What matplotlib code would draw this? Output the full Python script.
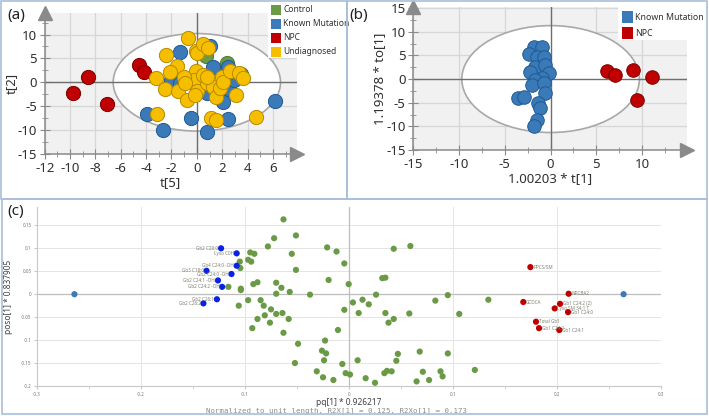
import numpy as np
import matplotlib
matplotlib.use("Agg")
import matplotlib.pyplot as plt
from matplotlib.patches import Ellipse, Rectangle
from matplotlib.ticker import MultipleLocator

plt.rcParams['font.family'] = ['Noto Sans', 'DejaVu Sans']
plt.rcParams['axes.unicode_minus'] = False

# ---- panel (a): t[5] vs t[2] scores ----
a_groups = ["Control", "Known Mutation", "NPC", "Undiagnosed"]
a_colors = ["#6a9a45", "#3a7ab8", "#c00000", "#f5bf00"]
a_edges = ["#4d7a2e", "#1f5a94", "#7a0000", "#b88a00"]
ctrl_x = [2.4, 0.7, 3.5]
ctrl_y = [4.1, 5.4, 1.8]
km_x = [6.2, -3.9, -2.7, -0.5, 0.8, 2.45, -1.3, 1.05, 1.3, 2.45, 2.05, 2.5, -2.0, -1.3, 0.8, 3.4, 2.9]
km_y = [-3.9, -6.6, -10.0, -7.5, -10.5, -7.75, 6.35, 7.5, 3.3, 3.3, -4.05, -1.3, 0.5, -0.2, -2.3, 1.5, 0.5]
npc_x = [-9.8, -8.6, -7.05, -4.55, -4.15]
npc_y = [-2.15, 1.1, -4.6, 3.55, 2.1]
und_x = [-0.7, -2.4, -0.1, 0.0, 0.5, 0.85, -3.25, -1.6, -2.1, -2.5, -1.45, -0.8, -0.05, -0.25, 0.0,
         -0.15, 0.8, 1.3, 1.55, 1.85, 1.95, 2.1, 2.65, 3.1, 3.3, 3.65, -3.15, 1.15, 1.55, 4.65,
         -1.05, 0.45, 0.8, -0.9]
und_y = [9.2, 5.7, 6.6, 6.1, 8.0, 7.1, 0.8, 3.4, 2.2, -1.5, -1.75, -3.7, 2.45, 0.5, -1.75,
         -2.65, -0.1, -0.9, -3.0, -1.25, 1.05, 0.15, 2.45, -2.65, 2.0, 0.85, -6.65, -7.55, -7.9, -7.35,
         1.05, 1.55, 1.05, -0.2]
a_x = [ctrl_x, km_x, npc_x, und_x]
a_y = [ctrl_y, km_y, npc_y, und_y]

# ---- panel (b): OPLS-DA Known Mutation vs NPC ----
b_groups = ["Known Mutation", "NPC"]
b_colors = ["#3a7ab8", "#c00000"]
b_edges = ["#1f5a94", "#7a0000"]
bkm_x = [-1.85, -0.95, -2.4, -1.5, -0.75, -1.7, -0.6, -2.25, -0.2, -0.95, -1.7, -2.05, -0.75,
         -0.6, -3.6, -2.95, -1.4, -1.15, -1.5, -1.85]
bkm_y = [6.8, 6.8, 5.4, 4.7, 4.7, 2.6, 2.95, 1.55, 1.2, 0.15, -0.2, -1.25, -0.9,
         -3.0, -4.1, -3.7, -5.15, -6.2, -8.65, -9.9]
bnpc_x = [6.2, 7.0, 9.0, 11.1, 9.45]
bnpc_y = [1.75, 0.85, 1.9, 0.5, -4.45]
b_x = [bkm_x, bnpc_x]
b_y = [bkm_y, bnpc_y]

# ---- panel (c): loadings ----
green_x = [-0.063, -0.051, -0.072, -0.078, -0.055, -0.095, -0.091, -0.105, -0.097, -0.094, -0.1045,
           -0.051, -0.092, -0.088, -0.070, -0.065, -0.057, -0.116, -0.104, -0.104, -0.070, -0.0375,
           -0.021, -0.012, -0.0045, -0.0196, -0.0003, -0.097, -0.085, -0.106, -0.082, -0.075,
           -0.070, -0.064, -0.081, -0.088, -0.058, -0.076, -0.093, -0.063, -0.0106, 0.0038,
           -0.0045, 0.0093, -0.049, -0.023, -0.026, -0.022, -0.024, -0.052, -0.0064, 0.0083,
           -0.031, -0.0032, 0.001, -0.025, -0.015,
           0.043, 0.059, 0.032, 0.035, 0.026, 0.013, 0.019, 0.035, 0.043, 0.038, 0.058, 0.083,
           0.095, 0.106, 0.134, 0.047, 0.0455, 0.068, 0.095, 0.034, 0.0365, 0.041, 0.016, 0.025,
           0.065, 0.071, 0.077, 0.088, 0.090, 0.121]
green_y = [0.163, 0.128, 0.122, 0.104, 0.088, 0.091, 0.088, 0.071, 0.075, 0.071, 0.057,
           0.053, 0.022, 0.026, 0.025, 0.014, 0.005, 0.016, 0.012, 0.009, 0.001, -0.001,
           0.102, 0.093, 0.067, 0.031, 0.022, -0.013, -0.013, -0.025, -0.025, -0.033,
           -0.043, -0.041, -0.046, -0.054, -0.054, -0.062, -0.074, -0.084, -0.078, -0.018,
           -0.034, -0.041, -0.108, -0.101, -0.123, -0.129, -0.144, -0.150, -0.152, -0.144,
           -0.168, -0.172, -0.175, -0.181, -0.187,
           0.099, 0.105, 0.035, 0.036, -0.001, -0.012, -0.022, -0.041, -0.054, -0.062, -0.042, -0.014,
           -0.002, -0.043, -0.012, -0.130, -0.145, -0.125, -0.129, -0.172, -0.167, -0.168, -0.183, -0.193,
           -0.190, -0.169, -0.187, -0.168, -0.179, -0.165]
blue_labels = ["Gb2 C20:0", "Lyso C0H", "Gb4 C24:0 -OH", "Gb3 C18:0", "Gb2 C24:0 -OH",
               "Gb2 C24:1 -OH", "Gb2 C24:2 -OH", "Gb2 C26:1", "Gb2 C26:2"]
blue_x = [-0.123, -0.108, -0.108, -0.137, -0.113, -0.126, -0.122, -0.127, -0.140]
blue_y = [0.100, 0.089, 0.062, 0.051, 0.044, 0.030, 0.016, -0.011, -0.020]
red_labels = ["PPCS/SM", "NPCBA2", "GCDCA", "Gb1 C24:2 (2)", "Lyso SM 34:1 T", "Gb1 C24:0",
              "Total Gb1", "Gb1 C24:2", "Gb1 C24:1"]
red_x = [0.1744, 0.2112, 0.1676, 0.2029, 0.1978, 0.2106, 0.1798, 0.1827, 0.2022]
red_y = [0.059, 0.001, -0.017, -0.021, -0.031, -0.039, -0.060, -0.074, -0.078]
class_x = [-0.264, 0.264]
class_y = [0.0, 0.0]

W, H = 709, 416
fig = plt.figure(figsize=(W / 100, H / 100), dpi=100)


def px_rect(x0, y0, x1, y1):
    # figure-fraction rect from pixel corners (top-left origin)
    return [x0 / W, 1 - y1 / H, (x1 - x0) / W, (y1 - y0) / H]


def score_axes(rect, xlim, ylim, xmaj, xmin, ymaj, ymin, ell):
    ax = fig.add_axes(rect)
    ax.set_facecolor("#f1f1f1")
    ax.set_xlim(*xlim)
    ax.set_ylim(*ylim)
    ax.xaxis.set_major_locator(MultipleLocator(xmaj))
    ax.xaxis.set_minor_locator(MultipleLocator(xmin))
    ax.yaxis.set_major_locator(MultipleLocator(ymaj))
    ax.yaxis.set_minor_locator(MultipleLocator(ymin))
    ax.set_axisbelow(True)
    ax.grid(True, which="major", color="#d6d6d6", lw=0.9)
    for s in ["top", "right"]:
        ax.spines[s].set_visible(False)
    for s in ["left", "bottom"]:
        ax.spines[s].set_color("#8a8a8a")
        ax.spines[s].set_linewidth(1.1)
    ax.tick_params(which="major", direction="inout", length=7, color="#8a8a8a",
                   labelsize=9.5, labelcolor="#303030", pad=2)
    ax.tick_params(which="minor", direction="inout", length=4, color="#8a8a8a")
    ax.add_patch(Ellipse((0, 0), 2 * ell[0], 2 * ell[1], fc="white", ec="#a8a8a8",
                         lw=1.2, zorder=1))
    ax.axhline(0, color="#6e6e6e", lw=1.0, zorder=1.5)
    ax.axvline(0, color="#6e6e6e", lw=1.0, zorder=1.5)
    ax.plot([1], [0], marker=">", ms=10, color="#8a8a8a", transform=ax.transAxes,
            clip_on=False, zorder=5)
    ax.plot([0], [1], marker="^", ms=10, color="#8a8a8a", transform=ax.transAxes,
            clip_on=False, zorder=5)
    return ax


# panel (a)
ax_a = score_axes(px_rect(44.7, 13, 297, 154), (-12, 7.9), (-15, 14.5), 2, 1, 5, 2.5, (6.6, 10.2))
for xs, ys, c, e in zip(a_x, a_y, a_colors, a_edges):
    ax_a.scatter(xs, ys, s=105, c=c, edgecolors=e, linewidths=0.7, zorder=3)
ax_a.set_xlabel("t[5]", fontsize=9.5, color="#303030", labelpad=1)
ax_a.set_ylabel("t[2]", fontsize=9.5, color="#303030", labelpad=0)

# panel (b)
ax_b = score_axes(px_rect(413.3, 6.7, 687, 150), (-15, 14.9), (-15, 15.3), 5, 2.5, 5, 2.5, (9.7, 11.3))
for xs, ys, c, e in zip(b_x, b_y, b_colors, b_edges):
    ax_b.scatter(xs, ys, s=95, c=c, edgecolors=e, linewidths=0.7, zorder=3)
ax_b.set_xlabel("1.00203 * t[1]", fontsize=9.5, color="#303030", labelpad=1)
ax_b.set_ylabel("1.19378 * to[1]", fontsize=9.5, color="#303030", labelpad=0)

# legends drawn as white boxes with coloured squares
fig.add_artist(Rectangle((268 / W, 1 - 58 / H), 78 / W, 55 / H, transform=fig.transFigure,
                         fc="white", ec="none", zorder=2))
for i, (g, c) in enumerate(zip(a_groups, a_colors)):
    yc = 10 + 14 * i
    fig.add_artist(Rectangle((271 / W, 1 - (yc + 5) / H), 9.5 / W, 10 / H,
                             transform=fig.transFigure, fc=c, ec="none", zorder=3))
    fig.text(283 / W, 1 - yc / H, g, fontsize=6.1, va="center", ha="left", color="#303030", zorder=3)
fig.add_artist(Rectangle((618 / W, 1 - 40 / H), 90 / W, 34 / H, transform=fig.transFigure,
                         fc="white", ec="none", zorder=2))
for i, (g, c) in enumerate(zip(b_groups, b_colors)):
    yc = 17 + 16 * i
    fig.add_artist(Rectangle((622 / W, 1 - (yc + 5.5) / H), 11 / W, 11 / H,
                             transform=fig.transFigure, fc=c, ec="none", zorder=3))
    fig.text(635 / W, 1 - yc / H, g, fontsize=6.3, va="center", ha="left", color="#303030", zorder=3)

# panel (c)
ax_c = fig.add_axes(px_rect(37, 207, 661, 386))
ax_c.set_xlim(-0.3, 0.3)
ax_c.set_ylim(-0.2, 0.19)
ax_c.set_xticks(np.round(np.arange(-0.3, 0.31, 0.1), 2))
ax_c.set_xticks(np.round(np.arange(-0.25, 0.3, 0.1), 2), minor=True)
ax_c.set_yticks(np.round(np.arange(-0.2, 0.16, 0.05), 2))
ax_c.set_xticklabels(["-0.3", "-0.2", "-0.1", "0", "0.1", "0.2", "0.3"])
ax_c.set_yticklabels(["-0.2", "-0.15", "-0.1", "-0.05", "0", "0.05", "0.1", "0.15"])
ax_c.set_axisbelow(True)
ax_c.grid(True, which="major", color="#e4e4e4", lw=0.7)
for s in ["top", "right"]:
    ax_c.spines[s].set_visible(False)
for s in ["left", "bottom"]:
    ax_c.spines[s].set_color("#c8c8c8")
    ax_c.spines[s].set_linewidth(0.8)
ax_c.tick_params(which="both", length=2, color="#c8c8c8", labelsize=3.2, labelcolor="#707070", pad=2)
ax_c.axhline(0, color="#bdbdbd", lw=0.9, zorder=1)
ax_c.axvline(0, color="#bdbdbd", lw=0.9, zorder=1)
ax_c.scatter(green_x, green_y, s=20, c="#6a9a45", edgecolors="none", zorder=3)
ax_c.scatter(blue_x, blue_y, s=20, c="#0a22e6", edgecolors="none", zorder=4)
ax_c.scatter(red_x, red_y, s=20, c="#c00000", edgecolors="none", zorder=4)
ax_c.scatter(class_x, class_y, s=20, c="#3d7ab8", edgecolors="none", zorder=4)
for lab, x, y in zip(blue_labels, blue_x, blue_y):
    ax_c.annotate(lab, (x, y), xytext=(-2, 0), textcoords="offset points", ha="right",
                  va="center", fontsize=3.3, color="#7d8070", zorder=5)
for lab, x, y in zip(red_labels, red_x, red_y):
    ax_c.annotate(lab, (x, y), xytext=(2, 0), textcoords="offset points", ha="left",
                  va="center", fontsize=3.3, color="#7d8070", zorder=5)
ax_c.set_xlabel("pq[1] * 0.926217", fontsize=6, color="#404040", labelpad=1)
ax_c.set_ylabel("poso[1] * 0.837905", fontsize=6, color="#404040", labelpad=6)
fig.text(336 / W, 1 - 410.5 / H, "Normalized to unit length, R2X[1] = 0.125, R2Xo[1] = 0.173",
         fontsize=5.3, family="DejaVu Sans Mono", color="#8c8c8c", ha="center", va="center")

# panel letters
fig.text(7 / W, 1 - 15 / H, "(a)", fontsize=11, color="#202020", va="center")
fig.text(349 / W, 1 - 15 / H, "(b)", fontsize=11, color="#202020", va="center")
fig.text(7 / W, 1 - 212 / H, "(c)", fontsize=11, color="#202020", va="center")

# panel frames
for x0, y0, x1, y1 in [(1, 1, 347, 199), (347, 1, 707, 199), (2, 199, 707, 414)]:
    fig.add_artist(Rectangle((x0 / W, 1 - y1 / H), (x1 - x0) / W, (y1 - y0) / H,
                             transform=fig.transFigure, fill=False, ec="#a9bfd9", lw=1.2, zorder=6))

fig.savefig("out.png", dpi=100)
